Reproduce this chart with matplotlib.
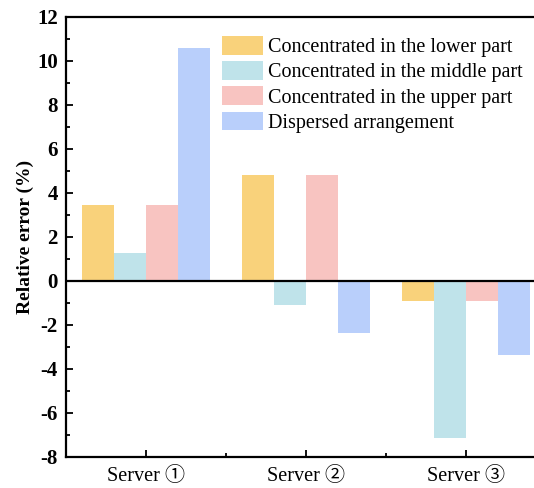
import numpy as np
import matplotlib.pyplot as plt
from matplotlib.ticker import MultipleLocator, FixedLocator

plt.rcParams['font.family'] = ['Liberation Serif', 'Noto Sans CJK SC', 'DejaVu Sans']
plt.rcParams['axes.unicode_minus'] = False

servers = ['Server ①', 'Server ②', 'Server ③']
series = ['Concentrated in the lower part', 'Concentrated in the middle part',
          'Concentrated in the upper part', 'Dispersed arrangement']
lower = [3.45, 4.82, -0.91]
middle = [1.27, -1.09, -7.14]
upper = [3.45, 4.82, -0.91]
dispersed = [10.6, -2.36, -3.36]
colors = ['#f9d27b', '#bfe3ea', '#f8c4c1', '#b9cffb']

fig = plt.figure(figsize=(5.34, 4.88), dpi=100)
ax = fig.add_axes([66/534, 31/488, 480/534, 440/488])

x = np.arange(1, len(servers) + 1)
w = 0.2
for i, (vals, c, lab) in enumerate(zip([lower, middle, upper, dispersed], colors, series)):
    ax.bar(x + (i - 1.5) * w, vals, w, color=c, label=lab)

ax.axhline(0, color='black', linewidth=1.6)
ax.set_xlim(0.5, 3.5)
ax.set_ylim(-8, 12)
ax.set_xticks(x)
ax.set_xticklabels(servers, fontsize=14.5)
ax.xaxis.set_minor_locator(FixedLocator([1.5, 2.5]))
ax.yaxis.set_major_locator(MultipleLocator(2))
ax.yaxis.set_minor_locator(MultipleLocator(1))
for lbl in ax.get_yticklabels():
    lbl.set_fontweight('bold')
    lbl.set_fontsize(15)
ax.tick_params(which='both', direction='in', width=1.3)
ax.tick_params(which='major', length=5, pad=6)
ax.tick_params(which='minor', length=3)
ax.tick_params(axis='x', which='major', pad=7)
ax.tick_params(axis='x', which='both', top=False)
ax.tick_params(axis='y', which='both', right=False)
for s in ax.spines.values():
    s.set_linewidth(1.6)

ax.set_ylabel('Relative error (%)', fontsize=14, fontweight='bold', labelpad=2)

ax.legend(loc='upper left', bbox_to_anchor=(156/480, 1 - 19/440), frameon=False,
          fontsize=14.5, handlelength=2.05, handleheight=1.05, handletextpad=0.25,
          labelspacing=0.2, borderaxespad=0, borderpad=0)

fig.savefig('out.png', dpi=100)
